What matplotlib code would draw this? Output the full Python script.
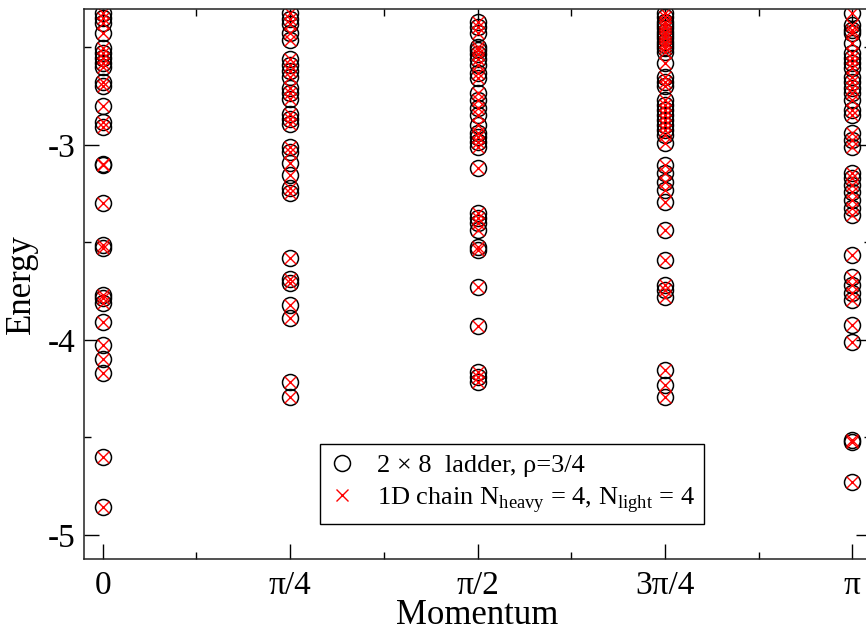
import numpy as np
import matplotlib
matplotlib.use('Agg')
from matplotlib import pyplot as plt
from matplotlib.ticker import MultipleLocator

plt.rcParams['font.family'] = ['Liberation Serif', 'DejaVu Serif']
plt.rcParams['mathtext.fontset'] = 'custom'
plt.rcParams['mathtext.rm'] = 'Liberation Serif'

momentum = [0, np.pi/4, np.pi/2, 3*np.pi/4, np.pi]
tick_labels = ['0', 'π/4', 'π/2', '3π/4', 'π']

# energies, one list per momentum
e_0 = [-2.325, -2.35, -2.376, -2.427, -2.504, -2.53, -2.555, -2.58, -2.598,
       -2.675, -2.70, -2.80, -2.88, -2.906, -3.10, -3.105, -3.30, -3.513,
       -3.53, -3.77, -3.786, -3.81, -3.906, -4.026, -4.10, -4.17, -4.598,
       -4.855]
e_pi4 = [-2.325, -2.354, -2.379, -2.427, -2.462, -2.559, -2.59, -2.619,
         -2.653, -2.709, -2.735, -2.764, -2.841, -2.867, -2.892, -3.009,
         -3.038, -3.094, -3.154, -3.222, -3.248, -3.581, -3.689, -3.709,
         -3.82, -3.887, -4.214, -4.291]
e_pi2 = [-2.368, -2.393, -2.427, -2.496, -2.513, -2.533, -2.559, -2.59,
         -2.633, -2.658, -2.735, -2.769, -2.812, -2.846, -2.897, -2.94,
         -2.96, -2.983, -3.009, -3.12, -3.35, -3.376, -3.402, -3.436,
         -3.521, -3.538, -3.726, -3.928, -4.163, -4.188, -4.214]
e_3pi4 = [-2.325, -2.342, -2.368, -2.385, -2.402, -2.419, -2.436, -2.453,
          -2.47, -2.487, -2.504, -2.521, -2.581, -2.65, -2.675, -2.70,
          -2.769, -2.795, -2.821, -2.846, -2.872, -2.897, -2.923, -2.949,
          -2.991, -3.103, -3.145, -3.188, -3.231, -3.291, -3.436, -3.59,
          -3.718, -3.744, -3.778, -4.154, -4.231, -4.291]
e_pi = [-2.325, -2.385, -2.41, -2.427, -2.479, -2.53, -2.555, -2.581,
        -2.607, -2.65, -2.675, -2.709, -2.735, -2.769, -2.821, -2.846,
        -2.94, -2.974, -3.009, -3.145, -3.171, -3.205, -3.239, -3.282,
        -3.325, -3.359, -3.564, -3.675, -3.718, -3.761, -3.795, -3.923,
        -4.009, -4.515, -4.525, -4.727]

ladder = [e_0, e_pi4, e_pi2, e_3pi4, e_pi]
chain = [e_0, e_pi4, e_pi2, e_3pi4, e_pi]  # same spectrum

lx = np.concatenate([[k]*len(e) for k, e in zip(momentum, ladder)])
ly = np.concatenate(ladder)
cx = np.concatenate([[k]*len(e) for k, e in zip(momentum, chain)])
cy = np.concatenate(chain)

fig = plt.figure(figsize=(8.66, 6.31), dpi=100)
ax = fig.add_axes([84/866, 72/631, 787/866, 550/631])

ax.plot(lx, ly, 'o', mfc='none', mec='black', ms=11.5, mew=1.1,
        label='2 × 8  ladder, ρ=3/4')
ax.plot(cx, cy, 'x', color='red', ms=8.5, mew=1.0,
        label=r'1D chain N$_\mathregular{heavy}$ = 4, N$_\mathregular{light}$ = 4')

ax.set_xlim(-0.1*np.pi/4, 4.1*np.pi/4)
ax.set_ylim(-5.123, -2.303)
ax.set_xticks(momentum)
ax.set_xticklabels(tick_labels)
ax.xaxis.set_minor_locator(MultipleLocator(np.pi/8))
ax.set_yticks([-5, -4, -3])
ax.set_yticklabels(['-5', '-4', '-3'])
ax.yaxis.set_minor_locator(MultipleLocator(0.5))
ax.tick_params(which='both', direction='in', top=True, right=True,
               width=1.0, labelsize=24)
ax.tick_params(axis='x', pad=8)
ax.tick_params(axis='y', pad=6)
ax.tick_params(which='major', length=11)
ax.tick_params(which='minor', length=5)
for s in ax.spines.values():
    s.set_linewidth(1.1)
    s.set_color('#222222')

ax.set_xlabel('Momentum', fontsize=25)
ax.xaxis.set_label_coords(0.5, -0.072)
ax.set_ylabel('Energy', fontsize=25)
ax.yaxis.set_label_coords(-0.058, 0.5)

leg = ax.legend(loc='lower left', bbox_to_anchor=(320/866, 107/631),
                bbox_transform=fig.transFigure, borderaxespad=0,
                fontsize=19, fancybox=False, framealpha=1,
                edgecolor='black', handlelength=1.0, handletextpad=0.8,
                borderpad=0.35, labelspacing=0.3)
leg.get_frame().set_linewidth(1.0)

plt.savefig('out.png', dpi=100)
